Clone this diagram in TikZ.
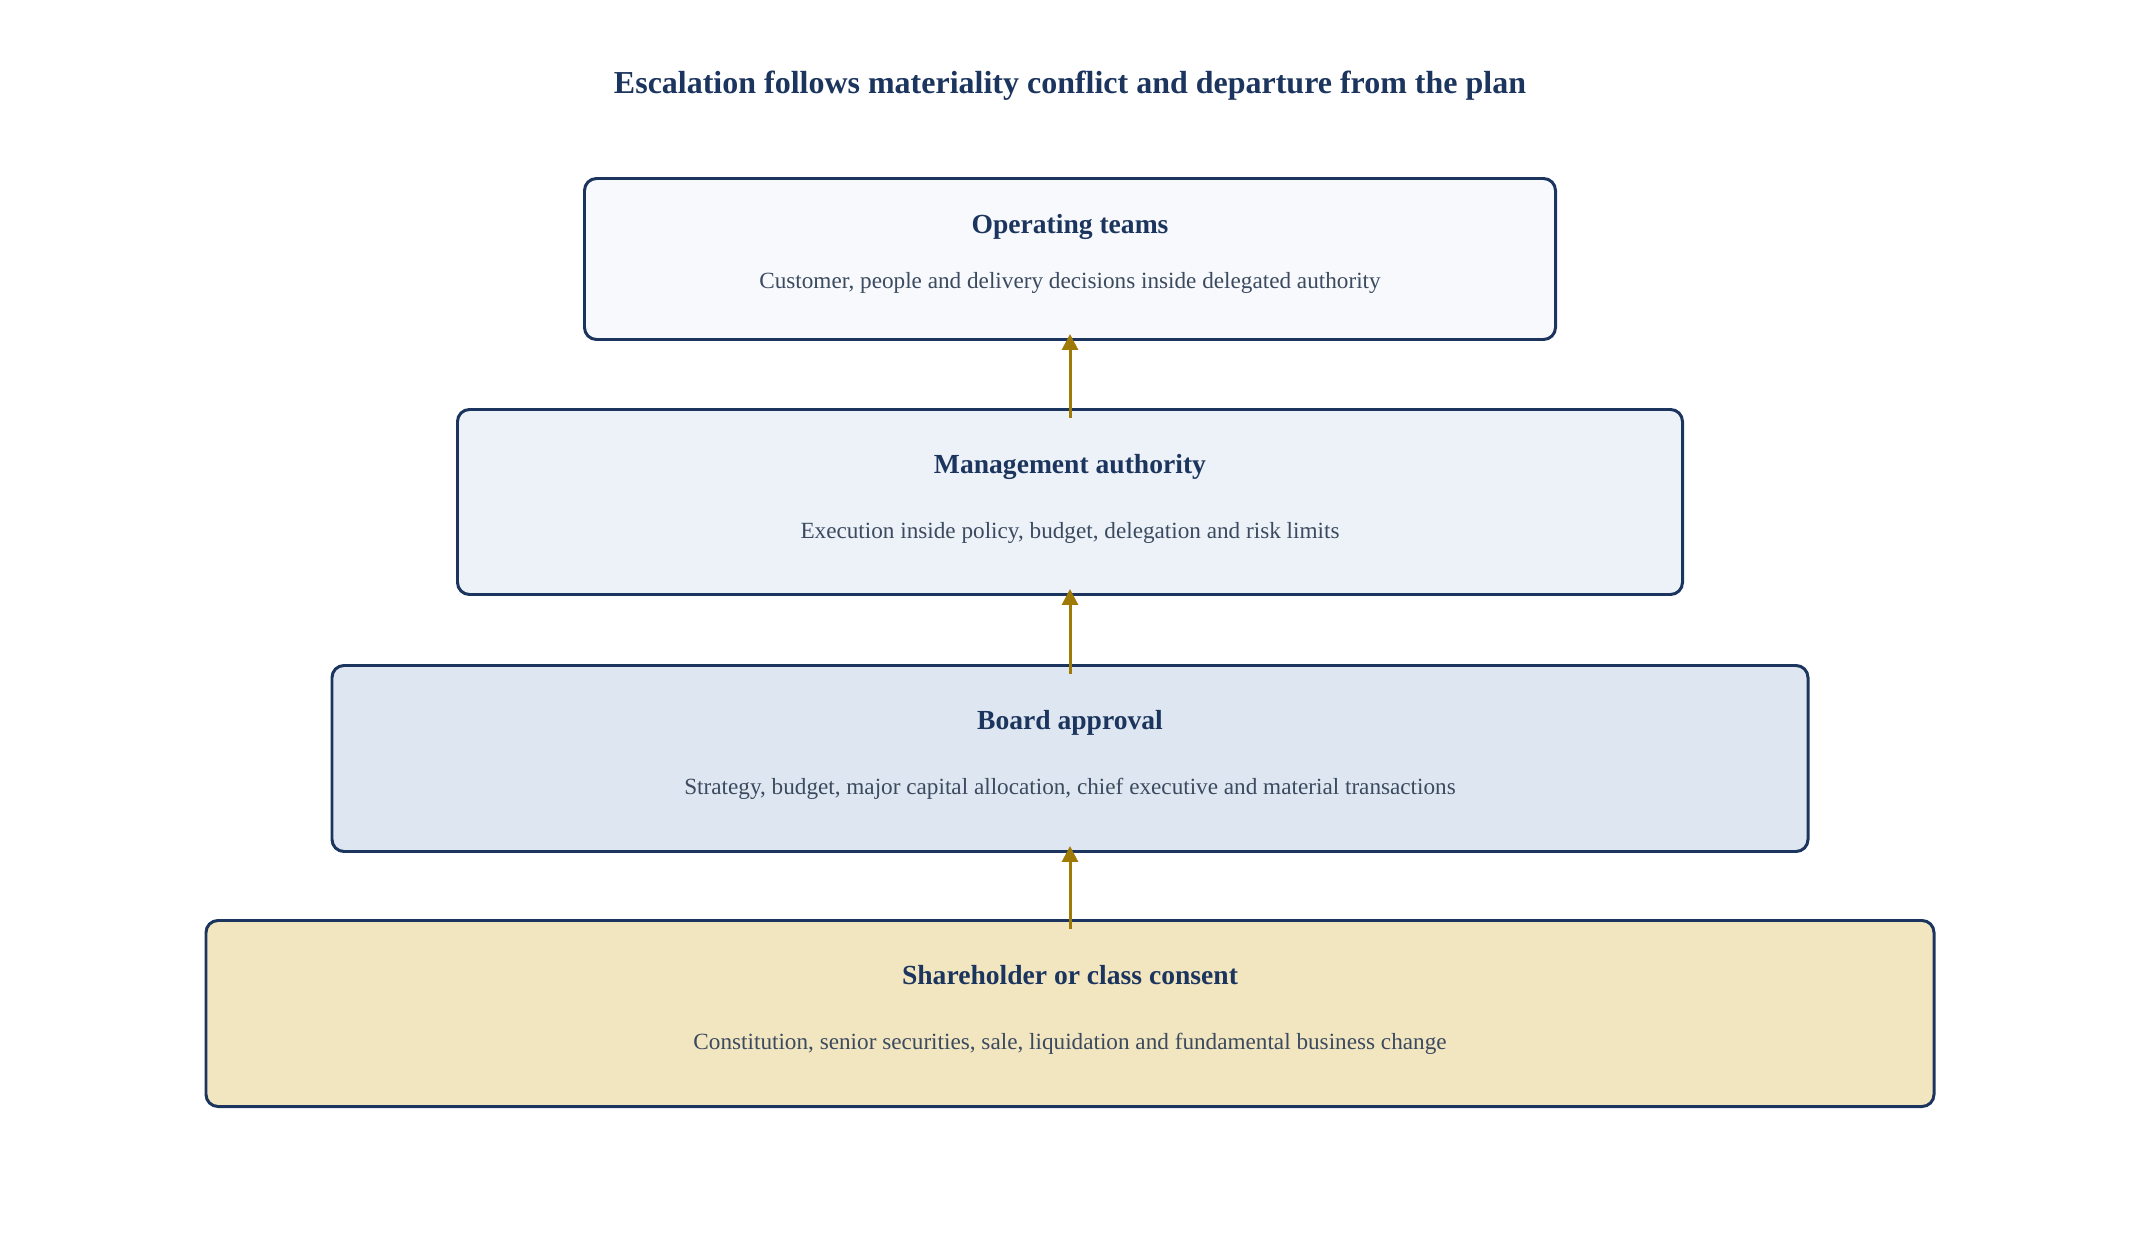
\documentclass[tikz,border=0pt]{standalone}
\usepackage{fontspec}
\setmainfont{Liberation Serif}
\usetikzlibrary{arrows.meta}
\definecolor{N}{RGB}{28, 53, 94}
\definecolor{T}{RGB}{59, 74, 95}
\definecolor{A}{RGB}{160, 122, 6}
\definecolor{F1}{RGB}{247, 249, 252}
\definecolor{F2}{RGB}{237, 242, 249}
\definecolor{F3}{RGB}{222, 231, 241}
\definecolor{F4}{RGB}{242, 230, 192}
\tikzset{
  tier/.style={draw=N, line width=1.7pt, rounded corners=0.24cm, inner sep=0pt, anchor=north},
  head/.style={anchor=base, text=N, font=\fontsize{15.7}{18}\selectfont\bfseries},
  desc/.style={anchor=base, text=T, font=\fontsize{13.2}{15}\selectfont},
  up/.style={draw=A, line width=1.7pt, -{Triangle[length=0.32cm, width=0.32cm]}}
}

\begin{document}
\begin{tikzpicture}
  \useasboundingbox (0,0) rectangle (42.8,-25.2);
  \node[head, font=\fontsize{18.2}{21}\selectfont\bfseries] (title) at (21.40,-1.86) {Escalation follows materiality conflict and departure from the plan};

  \node[tier, fill=F1, minimum width=19.42cm, minimum height=3.22cm] (ops) at (21.40,-3.54) {};
  \node[head] (opsh) at ([yshift=-1.12cm]ops.north) {Operating teams};
  \node[desc] (opsd) at ([yshift=-2.22cm]ops.north) {Customer, people and delivery decisions inside delegated authority};

  \node[tier, fill=F2, minimum width=24.50cm, minimum height=3.70cm] (mgmt) at (21.40,-8.16) {};
  \node[head] (mgmth) at ([yshift=-1.30cm]mgmt.north) {Management authority};
  \node[desc] (mgmtd) at ([yshift=-2.60cm]mgmt.north) {Execution inside policy, budget, delegation and risk limits};

  \node[tier, fill=F3, minimum width=29.52cm, minimum height=3.72cm] (board) at (21.40,-13.28) {};
  \node[head] (boardh) at ([yshift=-1.30cm]board.north) {Board approval};
  \node[desc] (boardd) at ([yshift=-2.60cm]board.north) {Strategy, budget, major capital allocation, chief executive and material transactions};

  \node[tier, fill=F4, minimum width=34.56cm, minimum height=3.72cm] (share) at (21.40,-18.38) {};
  \node[head] (shareh) at ([yshift=-1.30cm]share.north) {Shareholder or class consent};
  \node[desc] (shared) at ([yshift=-2.60cm]share.north) {Constitution, senior securities, sale, liquidation and fundamental business change};

  \draw[up] ([yshift=-0.19cm]mgmt.north) -- ([yshift=0.14cm]ops.south);
  \draw[up] ([yshift=-0.19cm]board.north) -- ([yshift=0.14cm]mgmt.south);
  \draw[up] ([yshift=-0.19cm]share.north) -- ([yshift=0.14cm]board.south);
\end{tikzpicture}
\end{document}
